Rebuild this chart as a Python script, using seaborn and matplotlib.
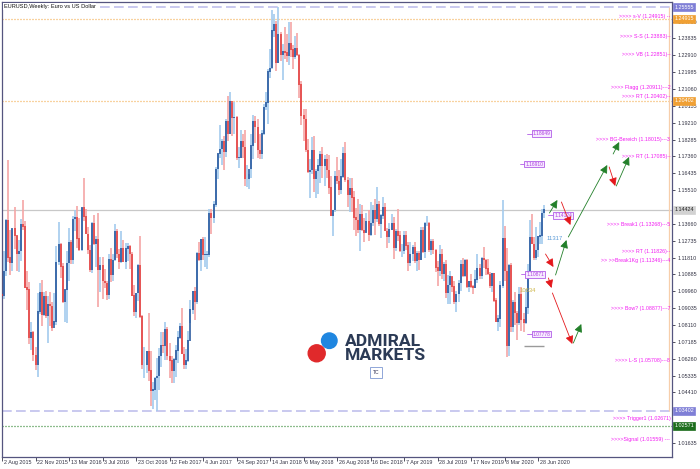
import numpy as np
import pandas as pd
import matplotlib
matplotlib.use("Agg")
import matplotlib.pyplot as plt
import matplotlib.transforms as mtransforms
from matplotlib.patches import Ellipse
import seaborn as sns

# ---------------- DATA (weekly EURUSD, open/high/low/close) ----------------
ohlc_2015 = [
    (1.0980, 1.0990, 1.0848, 1.0970), (1.0970, 1.1215, 1.0955, 1.1105), (1.1105, 1.1390, 1.1080, 1.1385),
    (1.1385, 1.1714, 1.1155, 1.1180), (1.1180, 1.1332, 1.1087, 1.1150), (1.1150, 1.1340, 1.1105, 1.1338),
    (1.1338, 1.1460, 1.1230, 1.1300), (1.1300, 1.1300, 1.1105, 1.1200), (1.1200, 1.1280, 1.1100, 1.1215),
    (1.1215, 1.1390, 1.1160, 1.1360), (1.1360, 1.1495, 1.1330, 1.1350), (1.1350, 1.1380, 1.1015, 1.1015),
    (1.1015, 1.1105, 1.0896, 1.1005), (1.1005, 1.1045, 1.0705, 1.0740), (1.0740, 1.0830, 1.0675, 1.0770),
    (1.0770, 1.0780, 1.0615, 1.0645), (1.0645, 1.0690, 1.0565, 1.0590), (1.0590, 1.0985, 1.0524, 1.0885),
    (1.0885, 1.1043, 1.0870, 1.0990), (1.0990, 1.1060, 1.0805, 1.0865), (1.0865, 1.0990, 1.0860, 1.0965),
    (1.0965, 1.0995, 1.0850, 1.0860),
]
ohlc_2016 = [
    (1.0860, 1.0970, 1.0710, 1.0925), (1.0925, 1.0990, 1.0805, 1.0915), (1.0915, 1.0940, 1.0778, 1.0795),
    (1.0795, 1.0985, 1.0810, 1.0830), (1.0830, 1.1245, 1.0810, 1.1155), (1.1155, 1.1376, 1.1140, 1.1255),
    (1.1255, 1.1260, 1.1070, 1.1130), (1.1130, 1.1150, 1.0930, 1.0935), (1.0935, 1.1005, 1.0825, 1.1005),
    (1.1005, 1.1218, 1.0822, 1.1150), (1.1150, 1.1342, 1.1055, 1.1265), (1.1265, 1.1280, 1.1145, 1.1170),
    (1.1170, 1.1410, 1.1145, 1.1390), (1.1390, 1.1440, 1.1325, 1.1400), (1.1400, 1.1464, 1.1235, 1.1285),
    (1.1285, 1.1400, 1.1215, 1.1225), (1.1225, 1.1455, 1.1215, 1.1455), (1.1455, 1.1616, 1.1380, 1.1405),
    (1.1405, 1.1445, 1.1310, 1.1310), (1.1310, 1.1350, 1.1200, 1.1220), (1.1220, 1.1250, 1.1100, 1.1115),
    (1.1115, 1.1375, 1.1095, 1.1365), (1.1365, 1.1416, 1.1250, 1.1255), (1.1255, 1.1300, 1.1131, 1.1280),
    (1.1280, 1.1428, 1.0912, 1.1115), (1.1115, 1.1185, 1.0990, 1.1135), (1.1135, 1.1185, 1.0955, 1.1050),
    (1.1050, 1.1120, 1.1015, 1.1040), (1.1040, 1.1050, 1.0950, 1.0975), (1.0975, 1.1200, 1.0955, 1.1170),
    (1.1170, 1.1235, 1.1045, 1.1085), (1.1085, 1.1200, 1.1050, 1.1165), (1.1165, 1.1366, 1.1160, 1.1325),
    (1.1325, 1.1340, 1.1180, 1.1200), (1.1200, 1.1230, 1.1120, 1.1155), (1.1155, 1.1327, 1.1150, 1.1232),
    (1.1232, 1.1280, 1.1155, 1.1155), (1.1155, 1.1260, 1.1120, 1.1230), (1.1230, 1.1260, 1.1160, 1.1240),
    (1.1240, 1.1250, 1.1120, 1.1200), (1.1200, 1.1210, 1.0970, 1.0970), (1.0970, 1.1030, 1.0860, 1.0885),
    (1.0885, 1.0985, 1.0850, 1.0985), (1.0985, 1.1145, 1.0945, 1.1140), (1.1140, 1.1300, 1.0850, 1.0855),
    (1.0855, 1.0865, 1.0570, 1.0590), (1.0590, 1.0690, 1.0518, 1.0590), (1.0590, 1.0670, 1.0550, 1.0665),
    (1.0665, 1.0875, 1.0505, 1.0560), (1.0560, 1.0670, 1.0365, 1.0450), (1.0450, 1.0500, 1.0350, 1.0455),
    (1.0455, 1.0525, 1.0400, 1.0520),
]
ohlc_2017 = [
    (1.0520, 1.0630, 1.0340, 1.0530), (1.0530, 1.0685, 1.0455, 1.0640), (1.0640, 1.0775, 1.0580, 1.0700),
    (1.0700, 1.0775, 1.0660, 1.0695), (1.0695, 1.0830, 1.0620, 1.0785), (1.0785, 1.0800, 1.0620, 1.0640),
    (1.0640, 1.0710, 1.0520, 1.0615), (1.0615, 1.0640, 1.0495, 1.0560), (1.0560, 1.0630, 1.0495, 1.0620),
    (1.0620, 1.0700, 1.0525, 1.0670), (1.0670, 1.0780, 1.0600, 1.0740), (1.0740, 1.0820, 1.0735, 1.0800),
    (1.0800, 1.0905, 1.0650, 1.0650), (1.0650, 1.0690, 1.0570, 1.0590), (1.0590, 1.0680, 1.0570, 1.0615),
    (1.0615, 1.0780, 1.0610, 1.0725), (1.0725, 1.0950, 1.0820, 1.0895), (1.0895, 1.0995, 1.0870, 1.0995),
    (1.0995, 1.1020, 1.0840, 1.0935), (1.0935, 1.1210, 1.0925, 1.1205), (1.1205, 1.1268, 1.1160, 1.1165),
    (1.1165, 1.1285, 1.1110, 1.1280), (1.1280, 1.1296, 1.1170, 1.1195), (1.1195, 1.1296, 1.1130, 1.1195),
    (1.1195, 1.1215, 1.1120, 1.1195), (1.1195, 1.1445, 1.1185, 1.1425), (1.1425, 1.1445, 1.1310, 1.1400),
    (1.1400, 1.1490, 1.1370, 1.1470), (1.1470, 1.1680, 1.1460, 1.1665), (1.1665, 1.1750, 1.1610, 1.1750),
    (1.1750, 1.1910, 1.1730, 1.1775), (1.1775, 1.1830, 1.1690, 1.1820), (1.1820, 1.1850, 1.1662, 1.1760),
    (1.1760, 1.1940, 1.1735, 1.1925), (1.1925, 1.2070, 1.1820, 1.1860), (1.1860, 1.2092, 1.1860, 1.2035),
    (1.2035, 1.2030, 1.1850, 1.1945), (1.1945, 1.2035, 1.1860, 1.1950), (1.1950, 1.1960, 1.1715, 1.1730),
    (1.1730, 1.1790, 1.1670, 1.1730), (1.1730, 1.1880, 1.1730, 1.1820), (1.1820, 1.1860, 1.1730, 1.1785),
    (1.1785, 1.1880, 1.1575, 1.1610), (1.1610, 1.1690, 1.1570, 1.1610), (1.1610, 1.1640, 1.1555, 1.1665),
    (1.1665, 1.1860, 1.1620, 1.1795), (1.1795, 1.1965, 1.1720, 1.1930), (1.1930, 1.1960, 1.1810, 1.1895),
    (1.1895, 1.1940, 1.1730, 1.1770), (1.1770, 1.1860, 1.1720, 1.1750), (1.1750, 1.1880, 1.1720, 1.1860),
    (1.1860, 1.2025, 1.1855, 1.2005),
]
ohlc_2018 = [
    (1.2005, 1.2090, 1.1990, 1.2030), (1.2030, 1.2215, 1.1915, 1.2200), (1.2200, 1.2323, 1.2165, 1.2220),
    (1.2220, 1.2537, 1.2215, 1.2425), (1.2425, 1.2520, 1.2390, 1.2460), (1.2460, 1.2480, 1.2205, 1.2250),
    (1.2250, 1.2555, 1.2250, 1.2405), (1.2405, 1.2420, 1.2260, 1.2295), (1.2295, 1.2355, 1.2155, 1.2310),
    (1.2310, 1.2445, 1.2270, 1.2305), (1.2305, 1.2410, 1.2255, 1.2285), (1.2285, 1.2475, 1.2240, 1.2355),
    (1.2355, 1.2475, 1.2280, 1.2320), (1.2320, 1.2345, 1.2215, 1.2280), (1.2280, 1.2395, 1.2270, 1.2330),
    (1.2330, 1.2415, 1.2285, 1.2290), (1.2290, 1.2300, 1.2055, 1.2130), (1.2130, 1.2150, 1.1910, 1.1960),
    (1.1960, 1.1995, 1.1820, 1.1940), (1.1940, 1.1995, 1.1760, 1.1770), (1.1770, 1.1830, 1.1645, 1.1650),
    (1.1650, 1.1720, 1.1510, 1.1660), (1.1660, 1.1840, 1.1640, 1.1770), (1.1770, 1.1850, 1.1540, 1.1610),
    (1.1610, 1.1665, 1.1510, 1.1655), (1.1655, 1.1720, 1.1530, 1.1685), (1.1685, 1.1765, 1.1590, 1.1745),
    (1.1745, 1.1790, 1.1615, 1.1685), (1.1685, 1.1745, 1.1575, 1.1720), (1.1720, 1.1750, 1.1620, 1.1660),
    (1.1660, 1.1745, 1.1530, 1.1565), (1.1565, 1.1630, 1.1410, 1.1410), (1.1410, 1.1440, 1.1300, 1.1440),
    (1.1440, 1.1655, 1.1430, 1.1625), (1.1625, 1.1735, 1.1585, 1.1600), (1.1600, 1.1660, 1.1525, 1.1550),
    (1.1550, 1.1720, 1.1530, 1.1625), (1.1625, 1.1790, 1.1620, 1.1750), (1.1750, 1.1815, 1.1595, 1.1605),
    (1.1605, 1.1625, 1.1460, 1.1525), (1.1525, 1.1620, 1.1430, 1.1560), (1.1560, 1.1620, 1.1430, 1.1510),
    (1.1510, 1.1545, 1.1335, 1.1400), (1.1400, 1.1455, 1.1300, 1.1385), (1.1385, 1.1500, 1.1315, 1.1335),
    (1.1335, 1.1475, 1.1215, 1.1415), (1.1415, 1.1470, 1.1325, 1.1330), (1.1330, 1.1400, 1.1265, 1.1315),
    (1.1315, 1.1425, 1.1320, 1.1380), (1.1380, 1.1440, 1.1270, 1.1305), (1.1305, 1.1485, 1.1300, 1.1370),
    (1.1370, 1.1470, 1.1355, 1.1440),
]
ohlc_2019 = [
    (1.1440, 1.1500, 1.1305, 1.1395), (1.1395, 1.1570, 1.1375, 1.1470), (1.1470, 1.1490, 1.1355, 1.1365),
    (1.1365, 1.1420, 1.1290, 1.1410), (1.1410, 1.1515, 1.1395, 1.1455), (1.1455, 1.1480, 1.1325, 1.1325),
    (1.1325, 1.1345, 1.1235, 1.1295), (1.1295, 1.1370, 1.1260, 1.1335), (1.1335, 1.1420, 1.1330, 1.1365),
    (1.1365, 1.1405, 1.1175, 1.1235), (1.1235, 1.1340, 1.1215, 1.1325), (1.1325, 1.1450, 1.1270, 1.1300),
    (1.1300, 1.1325, 1.1210, 1.1215), (1.1215, 1.1255, 1.1185, 1.1215), (1.1215, 1.1325, 1.1200, 1.1300),
    (1.1300, 1.1325, 1.1225, 1.1245), (1.1245, 1.1265, 1.1110, 1.1150), (1.1150, 1.1265, 1.1135, 1.1200),
    (1.1200, 1.1250, 1.1160, 1.1235), (1.1235, 1.1265, 1.1150, 1.1160), (1.1160, 1.1215, 1.1105, 1.1205),
    (1.1205, 1.1215, 1.1115, 1.1170), (1.1170, 1.1350, 1.1165, 1.1330), (1.1330, 1.1350, 1.1205, 1.1210),
    (1.1210, 1.1375, 1.1180, 1.1370), (1.1370, 1.1410, 1.1355, 1.1370), (1.1370, 1.1375, 1.1210, 1.1225),
    (1.1225, 1.1285, 1.1195, 1.1270), (1.1270, 1.1285, 1.1200, 1.1220), (1.1220, 1.1230, 1.1100, 1.1125),
    (1.1125, 1.1160, 1.1025, 1.1110), (1.1110, 1.1250, 1.1080, 1.1200), (1.1200, 1.1230, 1.1065, 1.1090),
    (1.1090, 1.1155, 1.1050, 1.1145), (1.1145, 1.1165, 1.0960, 1.0985), (1.0985, 1.1085, 1.0925, 1.1030),
    (1.1030, 1.1110, 1.0925, 1.1075), (1.1075, 1.1075, 1.0990, 1.1020), (1.1020, 1.1055, 1.0925, 1.0940),
    (1.0940, 1.0995, 1.0880, 1.0980), (1.0980, 1.1060, 1.0940, 1.1040), (1.1040, 1.1165, 1.1000, 1.1145),
    (1.1145, 1.1180, 1.1075, 1.1080), (1.1080, 1.1175, 1.1075, 1.1165), (1.1165, 1.1175, 1.1015, 1.1020),
    (1.1020, 1.1055, 1.0990, 1.1050), (1.1050, 1.1090, 1.1015, 1.1020), (1.1020, 1.1030, 1.0980, 1.1015),
    (1.1015, 1.1115, 1.1015, 1.1060), (1.1060, 1.1200, 1.1040, 1.1120), (1.1120, 1.1145, 1.1065, 1.1080),
    (1.1080, 1.1185, 1.1065, 1.1175),
]
ohlc_2020 = [
    (1.1175, 1.1240, 1.1125, 1.1165), (1.1165, 1.1175, 1.1085, 1.1120), (1.1120, 1.1175, 1.1085, 1.1090),
    (1.1090, 1.1100, 1.1015, 1.1025), (1.1025, 1.1095, 1.0990, 1.1095), (1.1095, 1.1095, 1.0940, 1.0945),
    (1.0945, 1.0960, 1.0825, 1.0830), (1.0830, 1.0865, 1.0778, 1.0845), (1.0845, 1.1055, 1.0800, 1.1025),
    (1.1025, 1.1495, 1.1015, 1.1285), (1.1285, 1.1355, 1.1055, 1.1105), (1.1105, 1.1235, 1.0635, 1.0695),
    (1.0695, 1.1145, 1.0640, 1.1140), (1.1140, 1.1150, 1.0770, 1.0800), (1.0800, 1.0950, 1.0770, 1.0935),
    (1.0935, 1.0990, 1.0810, 1.0875), (1.0875, 1.0890, 1.0727, 1.0820), (1.0820, 1.1020, 1.0810, 1.0980),
    (1.0980, 1.1020, 1.0780, 1.0840), (1.0840, 1.0875, 1.0775, 1.0820), (1.0820, 1.1010, 1.0815, 1.0905),
    (1.0905, 1.1145, 1.0870, 1.1105), (1.1105, 1.1385, 1.1095, 1.1290), (1.1290, 1.1420, 1.1255, 1.1255),
    (1.1255, 1.1295, 1.1170, 1.1180), (1.1180, 1.1350, 1.1165, 1.1220), (1.1220, 1.1300, 1.1185, 1.1295),
    (1.1295, 1.1375, 1.1255, 1.1300), (1.1300, 1.1450, 1.1255, 1.1425), (1.1425, 1.1470, 1.1400, 1.1445),
]

date_labels = ["2 Aug 2015", "22 Nov 2015", "13 Mar 2016", "3 Jul 2016", "23 Oct 2016", "12 Feb 2017",
               "4 Jun 2017", "24 Sep 2017", "14 Jan 2018", "6 May 2018", "26 Aug 2018", "16 Dec 2018",
               "7 Apr 2019", "28 Jul 2019", "17 Nov 2019", "8 Mar 2020", "28 Jun 2020"]
date_label_weeks = [0, 16, 32, 48, 64, 80, 96, 112, 128, 144, 160, 176, 192, 208, 224, 240, 256]

# price scale ticks (the ones hidden behind the value boxes are left out)
price_ticks = [1.01635, 1.04410, 1.05335, 1.06260, 1.07185, 1.08110, 1.09035,
               1.09960, 1.10885, 1.11810, 1.12735, 1.13660, 1.15510, 1.16435, 1.17360,
               1.18285, 1.19210, 1.20135, 1.21060, 1.21985, 1.22910, 1.23835, 1.24760]

range_high, range_low = 1.25555, 1.03402
orange_levels = [1.24915, 1.20402]
trigger_level = 1.02571
bid_level = 1.14424

level_texts = [">>>> s-V (1.24915) --", ">>>> S-S (1.23883)--", ">>>> VB (1.22851)--",
               ">>>> Flagg (1.20911)---2", ">>>> RT (1.20402)--", ">>>> BG-Bereich (1.18015)---3",
               ">>>> RT (1.17085)--", ">>>> Break1 (1.13268)---5", ">>>> RT (1.11826)--",
               ">> >>Break1Kg (1.11346)---4", ">>>> Bow? (1.08877)---7", ">>>> L-S (1.05708)---8",
               ">>>> Trigger1 (1.02671)", ">>>>Signal (1.01559) ---"]
level_text_prices = [1.25055, 1.23965, 1.22925, 1.21148, 1.20655, 1.18311, 1.17378, 1.13598, 1.12117,
                     1.11623, 1.08989, 1.06136, 1.02988, 1.01836]

box_texts = ["1.18649", "1.16910", "1.14124", "1.10871", "1.07778"]
box_weeks = [252.9, 249.5, 263.3, 250.0, 252.9]
box_prices = [1.18617, 1.16944, 1.14119, 1.10882, 1.07617]

green_arrows = [((261.4, 1.14256), (265.2, 1.14969)), ((264.3, 1.10854), (269.5, 1.12774)),
                ((270.4, 1.12939), (289.0, 1.16889)), ((293.3, 1.15737), (299.4, 1.17328)),
                ((291.8, 1.17493), (294.7, 1.18151)), ((272.8, 1.07124), (276.6, 1.08166))]
red_arrows = [((267.1, 1.14859), (271.4, 1.13597)), ((289.9, 1.16780), (292.8, 1.15737)),
              ((259.5, 1.12006), (263.3, 1.11293)), ((260.9, 1.10690), (262.4, 1.10141)),
              ((262.8, 1.09867), (272.3, 1.07069))]

# ---------------- FIGURE ----------------
sns.set_theme(style="white")
plt.rcParams['font.family'] = ['Liberation Sans', 'DejaVu Sans']

W, H = 700, 469
fig = plt.figure(figsize=(7.0, 4.69), dpi=100)
fig.patch.set_facecolor("white")
ax = fig.add_axes([2 / W, 12 / H, 670 / W, 455 / H])
ax.set_facecolor("white")

df = pd.DataFrame(ohlc_2015 + ohlc_2016 + ohlc_2017 + ohlc_2018 + ohlc_2019 + ohlc_2020,
                  columns=["open", "high", "low", "close"])
df["week"] = np.arange(len(df))
df["up"] = df["close"] >= df["open"]

BULL, BULL_W = "#1d4f98", "#a3cbee"
BEAR, BEAR_W = "#e23a3a", "#f5a6a6"

# price range / lines
ax.axhline(range_high, color="#c9c9ef", lw=1.4, dashes=(5.0, 2.2), zorder=1)
ax.axhline(range_low, color="#c9c9ef", lw=1.4, dashes=(5.0, 2.2), zorder=1)
for lv in orange_levels:
    ax.axhline(lv, color="#f2a640", lw=0.9, dashes=(0.8, 1.6), zorder=1)
ax.axhline(trigger_level, color="#1d7a1d", lw=0.9, dashes=(0.8, 1.6), zorder=1)
ax.axhline(bid_level, color="#c8c8c8", lw=0.9, zorder=1)
ax.vlines([318.6], range_low, range_high, color="#f7ceaa", lw=0.9, zorder=1)

up = df[df["up"]]
dn = df[~df["up"]]
ax.vlines(up["week"], up["low"], up["high"], color=BULL_W, lw=1.2, zorder=2)
ax.vlines(dn["week"], dn["low"], dn["high"], color=BEAR_W, lw=1.2, zorder=2)
mins = np.minimum(df["open"], df["close"])
maxs = np.maximum(df["open"], df["close"]) + 0.0003
col = np.where(df["up"], BULL, BEAR)
ax.vlines(df["week"], mins, maxs, colors=col, lw=1.1, zorder=3)

ax.set_xlim(1.43, 319.9)
ax.set_ylim(1.00869, 1.25832)

# axes styling
for s in ax.spines.values():
    s.set_color("#55557f")
    s.set_linewidth(0.9)
ax.yaxis.tick_right()
ax.set_yticks(price_ticks)
ax.set_yticklabels([f"{v:.5f}" for v in price_ticks])
ax.tick_params(axis="y", right=True, left=False, length=2.5, width=0.6, pad=1.2,
               labelsize=3.9, colors="#333344")
ax.set_xticks(date_label_weeks)
ax.set_xticklabels([])
ax.tick_params(axis="x", bottom=True, length=2.8, width=0.6, colors="#333344")
for w, lab in zip(date_label_weeks, date_labels):
    ax.annotate(lab, xy=(w, 0), xycoords=("data", "axes fraction"), xytext=(1.3, -1.8),
                textcoords="offset points", ha="left", va="top", fontsize=3.9,
                color="#333344", annotation_clip=False)

# right-side value boxes
def right_box(price, text, fc, tc):
    ax.annotate(text, xy=(1, price), xycoords=("axes fraction", "data"), xytext=(1.6, 0),
                textcoords="offset points", ha="left", va="center", fontsize=3.9, color=tc,
                bbox=dict(boxstyle="square,pad=0.25", fc=fc, ec=fc, lw=0.5),
                annotation_clip=False, zorder=10)

right_box(range_high, "1.25555", "#7f7fd6", "white")
right_box(orange_levels[0], "1.24915", "#f0a034", "white")
right_box(orange_levels[1], "1.20402", "#f0a034", "white")
right_box(bid_level, "1.14424", "#d2d2d2", "#222222")
right_box(range_low, "1.03402", "#7f7fd6", "white")
right_box(trigger_level, "1.02571", "#1d6e1d", "white")

# magenta level texts
trans_r = mtransforms.blended_transform_factory(ax.transAxes, ax.transData)
for txt, p in zip(level_texts, level_text_prices):
    ax.text(0.9975, p, txt, transform=trans_r, ha="right", va="center", fontsize=3.8,
            color="#f21cf2", zorder=6)

# boxes inside chart
for txt, w, p in zip(box_texts, box_weeks, box_prices):
    ax.plot([w - 2.4, w], [p, p], color="#b25ce8", lw=0.6, zorder=6)
    ax.text(w + 0.4, p, txt, ha="left", va="center", fontsize=3.5, color="#b040e0", zorder=7,
            bbox=dict(boxstyle="square,pad=0.2", fc="#f6ecff", ec="#b25ce8", lw=0.6))

ax.text(263.8, 1.12884, "11317", ha="center", va="center", fontsize=4.2, color="#5a9ad6", zorder=6)
ax.text(250.9, 1.09980, "10634", ha="center", va="center", fontsize=4.2, color="#cdb64a", zorder=6)
ax.hlines(1.06959, 249.1, 259.0, color="#9a9a9a", lw=1.0, zorder=6)

# projection arrows
for (x0, y0), (x1, y1) in green_arrows:
    ax.annotate("", xy=(x1, y1), xytext=(x0, y0),
                arrowprops=dict(arrowstyle="-|>,head_length=0.4,head_width=0.2",
                                color="#23802a", lw=0.6, shrinkA=0, shrinkB=0), zorder=8)
for (x0, y0), (x1, y1) in red_arrows:
    ax.annotate("", xy=(x1, y1), xytext=(x0, y0),
                arrowprops=dict(arrowstyle="-|>,head_length=0.4,head_width=0.2",
                                color="#e4181c", lw=0.6, shrinkA=0, shrinkB=0), zorder=8)

# title
fig.text(3.5 / W, 1 - 6.5 / H, "EURUSD,Weekly: Euro vs US Dollar", ha="left", va="center",
         fontsize=4.1, color="#111111",
         bbox=dict(boxstyle="square,pad=0.15", fc="white", ec="none"), zorder=20)

# logo
fig.add_artist(Ellipse((329.3 / W, 1 - 340.7 / H), 15.5 / W, 15.5 / H, color="#1f86e0", zorder=20))
fig.add_artist(Ellipse((316.7 / W, 1 - 353.3 / H), 17 / W, 17 / H, color="#e0292b", zorder=20))
fig.text(344.5 / W, 1 - 341 / H, "ADMIRAL", ha="left", va="center", fontsize=12.6,
         fontweight="bold", family="Roboto", color="#2b3a55", zorder=20)
fig.text(344.5 / W, 1 - 355.5 / H, "MARKETS", ha="left", va="center", fontsize=12.6,
         fontweight="bold", family="Roboto", color="#2b3a55", zorder=20)
fig.text(376 / W, 1 - 372.5 / H, "TC", ha="center", va="center", fontsize=3.6, color="#333355",
         bbox=dict(boxstyle="square,pad=0.6", fc="white", ec="#8fa6d8", lw=0.7), zorder=20)

fig.savefig("out.png", dpi=100, facecolor="white")
